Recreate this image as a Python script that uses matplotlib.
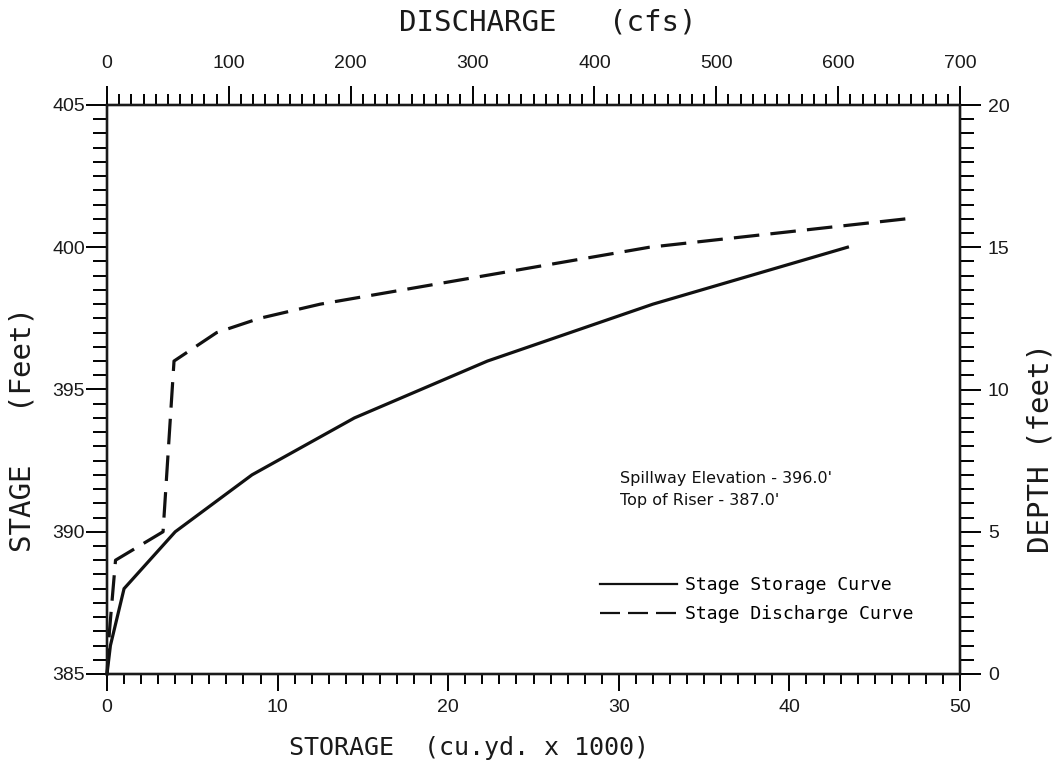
import matplotlib
matplotlib.use("Agg")
import matplotlib.pyplot as plt
from matplotlib.ticker import MultipleLocator
from matplotlib.lines import Line2D

# ---- data ----
storage_kcy = [0.0, 0.2, 1.0, 4.0, 8.5, 14.5, 22.3, 32.0, 43.4]
storage_stage = [385.0, 386.0, 388.0, 390.0, 392.0, 394.0, 396.0, 398.0, 400.0]

discharge_cfs = [0.0, 2.0, 7.0, 46.0, 55.0, 90.0, 125.0, 175.0, 310.0, 445.0, 656.0]
discharge_stage = [385.0, 386.5, 389.0, 390.0, 396.0, 397.0, 397.5, 398.0, 399.0, 400.0, 401.0]

annotation_lines = ["Spillway Elevation - 396.0'", "Top of Riser - 387.0'"]
legend_labels = ["Stage Storage Curve", "Stage Discharge Curve"]

label_font = "DejaVu Sans Mono"
tick_font = "Liberation Sans"
ink = "#1a1a1a"

fig = plt.figure(figsize=(10.61, 7.65), dpi=100)
ax = fig.add_axes([107/1061, 91/765, 853/1061, 569/765])
ax.set_xlim(0, 50)
ax.set_ylim(385, 405)

ax_top = ax.twiny()
ax_top.set_xlim(0, 700)
ax_right = ax.twinx()
ax_right.set_ylim(0, 20)

for a in (ax, ax_top, ax_right):
    for s in a.spines.values():
        s.set_linewidth(1.6)
        s.set_color(ink)

# bottom
ax.xaxis.set_major_locator(MultipleLocator(10))
ax.xaxis.set_minor_locator(MultipleLocator(1))
ax.tick_params(axis="x", which="major", direction="out", length=12, width=1.4, pad=6, labelsize=14)
ax.tick_params(axis="x", which="minor", direction="out", length=7, width=1.4)
# left
ax.yaxis.set_major_locator(MultipleLocator(5))
ax.yaxis.set_minor_locator(MultipleLocator(0.5))
ax.tick_params(axis="y", which="major", direction="out", length=15, width=1.4, pad=1, labelsize=14)
ax.tick_params(axis="y", which="minor", direction="out", length=10, width=1.4)
# top
ax_top.xaxis.set_major_locator(MultipleLocator(100))
ax_top.xaxis.set_minor_locator(MultipleLocator(10))
ax_top.tick_params(axis="x", which="major", direction="out", length=14, width=1.4, pad=10, labelsize=14)
ax_top.tick_params(axis="x", which="minor", direction="out", length=8, width=1.4)
# right
ax_right.yaxis.set_major_locator(MultipleLocator(5))
ax_right.yaxis.set_minor_locator(MultipleLocator(0.5))
ax_right.tick_params(axis="y", which="major", direction="out", length=15, width=1.4, pad=5, labelsize=14)
ax_right.tick_params(axis="y", which="minor", direction="out", length=10, width=1.4)

for a in (ax, ax_top, ax_right):
    for lab in a.get_xticklabels() + a.get_yticklabels():
        lab.set_fontfamily(tick_font)
        lab.set_color(ink)

# curves
ax.plot(storage_kcy, storage_stage, color="#111111", lw=2.3, solid_joinstyle="miter", clip_on=False)
ax_top.plot(discharge_cfs, discharge_stage, color="#111111", lw=2.3, dashes=(8, 3.5), clip_on=False)

# axis labels
fig.text(469/1061, 1 - 748/765, "STORAGE  (cu.yd. x 1000)", ha="center", va="center",
         fontsize=18, family=label_font, color=ink)
fig.text(548/1061, 1 - 22/765, "DISCHARGE   (cfs)", ha="center", va="center",
         fontsize=21, family=label_font, color=ink)
fig.text(23/1061, 1 - 429/765, "STAGE   (Feet)", ha="center", va="center", rotation=90,
         fontsize=21, family=label_font, color=ink)
fig.text(1040/1061, 1 - 448/765, "DEPTH (feet)", ha="center", va="center", rotation=90,
         fontsize=21, family=label_font, color=ink)

# annotations
fig.text(620/1061, 1 - 478/765, annotation_lines[0], ha="left", va="center",
         fontsize=11.5, family="DejaVu Sans", color="#111111")
fig.text(620/1061, 1 - 500/765, annotation_lines[1], ha="left", va="center",
         fontsize=11.5, family="DejaVu Sans", color="#111111")

# legend
handles = [Line2D([], [], color="#111111", lw=1.6),
           Line2D([], [], color="#111111", lw=1.6, dashes=(9, 3.6))]
leg = fig.legend(handles, legend_labels, loc="upper left",
                 bbox_to_anchor=(584/1061, 1 - 560/765), frameon=False,
                 handlelength=4.2, handletextpad=0.45, labelspacing=0.6,
                 prop={"family": "DejaVu Sans Mono", "size": 13.1})

fig.savefig("out.png", dpi=100, facecolor="white")
